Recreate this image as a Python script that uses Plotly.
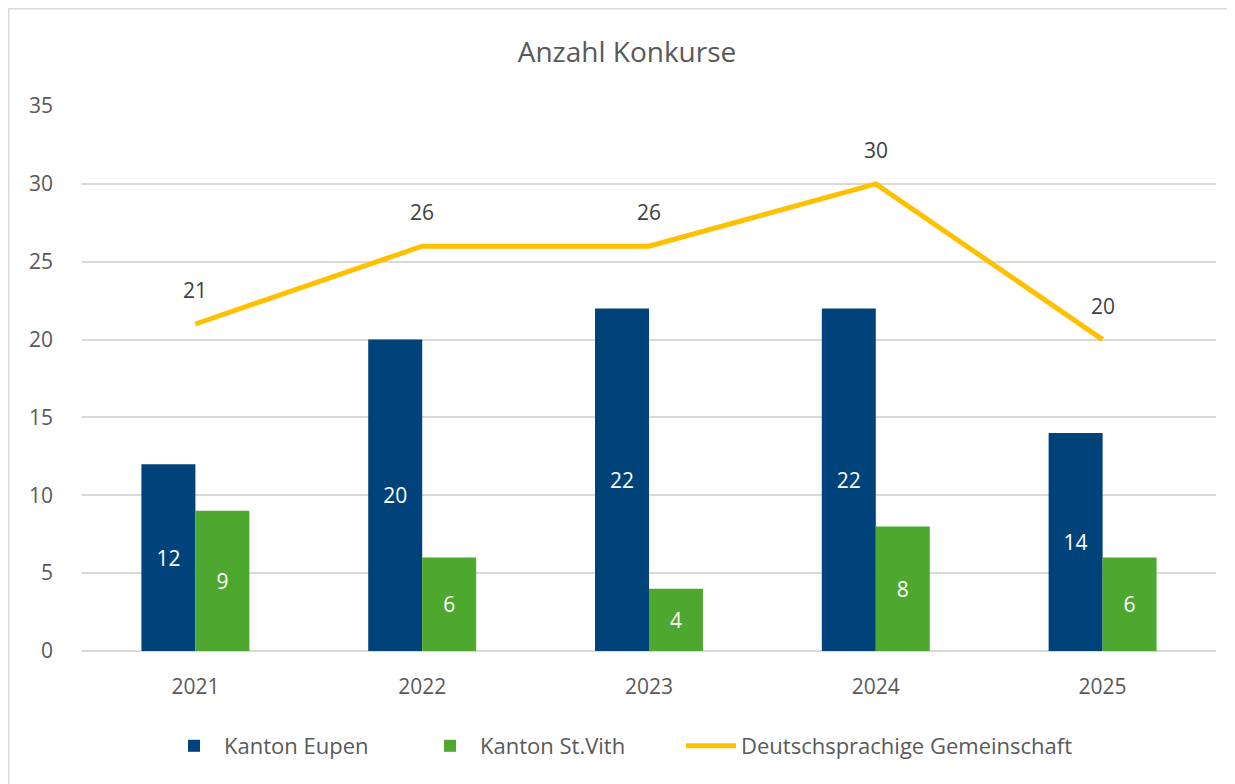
import plotly.graph_objects as go

years = ["2021", "2022", "2023", "2024", "2025"]
eupen = [12, 20, 22, 22, 14]
stvith = [9, 6, 4, 8, 6]
dg = [21, 26, 26, 30, 20]
y_ticks = [0, 5, 10, 15, 20, 25, 30, 35]

FONT = "Open Sans"
TXT = "#595959"

fig = go.Figure()
fig.add_trace(go.Bar(
    x=years, y=eupen, name="Kanton Eupen", marker_color="#00427A",
    marker_line_width=0, legend="legend",
    text=eupen, textposition="inside", insidetextanchor="middle",
    textfont=dict(color="white", size=21, family=FONT), textangle=0,
))
fig.add_trace(go.Bar(
    x=years, y=stvith, name="Kanton St.Vith", marker_color="#4EA72E",
    marker_line_width=0, legend="legend2",
    text=stvith, textposition="inside", insidetextanchor="middle",
    textfont=dict(color="white", size=21, family=FONT), textangle=0,
))
fig.add_trace(go.Scatter(
    x=years, y=dg, name="Deutschsprachige Gemeinschaft", mode="lines",
    line=dict(color="#FFC000", width=5), legend="legend3",
))
for i, v in enumerate(dg):
    fig.add_annotation(xref="x", yref="y", x=i, y=v, text=str(v),
                       showarrow=False, yshift=34,
                       font=dict(color="#404040", size=21, family=FONT))

# figure is placed at (8, 8) on the page by the body margin
W, H = 1227, 776
L, T = 74, 98
PR, PB = 1208, 643
R, B = W - PR, H - PB
pw, ph = PR - L, PB - T

def px2x(px):
    return (px - L) / pw

def py2y(py):
    return (PB - py) / ph

# chart-area border (top and left visible)
fig.add_shape(type="line", xref="paper", yref="paper",
              x0=px2x(0.5), x1=px2x(1240), y0=py2y(0.5), y1=py2y(0.5),
              line=dict(color="#D9D9D9", width=2))
fig.add_shape(type="line", xref="paper", yref="paper",
              x0=px2x(0.5), x1=px2x(0.5), y0=py2y(0.5), y1=py2y(800),
              line=dict(color="#D9D9D9", width=2))

def leg(px):
    return dict(orientation="h", x=px2x(px), xanchor="left",
                y=py2y(738), yanchor="middle", bgcolor="rgba(0,0,0,0)",
                font=dict(size=22, color=TXT, family=FONT), itemwidth=50)

fig.update_layout(
    width=W, height=H,
    margin=dict(l=L, r=R, t=T, b=B),
    paper_bgcolor="white", plot_bgcolor="white",
    barmode="group", bargap=0.524, bargroupgap=0,
    font=dict(family=FONT, color=TXT, size=21),
    title=dict(text="Anzahl Konkurse", x=619 / W,
               xanchor="center", y=1 - 44 / H, yanchor="middle",
               font=dict(size=28, color=TXT, family=FONT)),
    showlegend=True,
    legend=leg(156), legend2=leg(412), legend3=leg(673),
    xaxis=dict(type="category", categoryorder="array", categoryarray=years,
               range=[-0.5, len(years) - 0.5],
               showgrid=False, showline=False, ticks="outside", ticklen=17,
               tickcolor="rgba(0,0,0,0)",
               tickfont=dict(size=21, color=TXT)),
    yaxis=dict(range=[0, 35], tickvals=y_ticks, showgrid=True,
               gridcolor="#D9D9D9", gridwidth=1.5, zeroline=True,
               zerolinecolor="#D9D9D9", zerolinewidth=1.5, showline=False,
               ticks="", tickfont=dict(size=21, color=TXT),
               ticklabelstandoff=28),
)

fig.write_html("out.html")
